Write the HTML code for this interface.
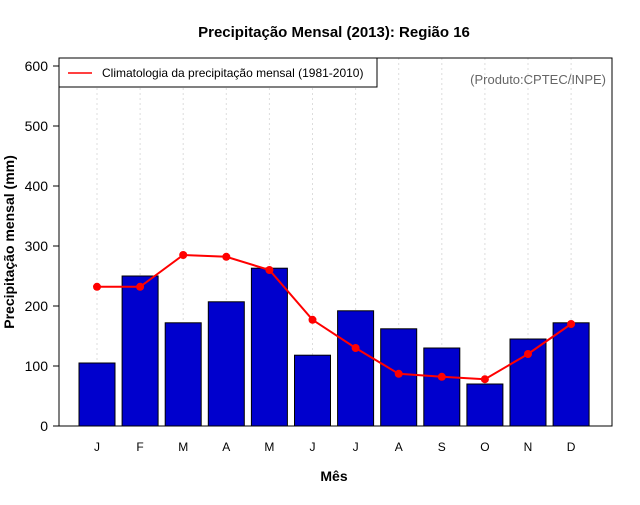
<!DOCTYPE html>
<html><head><meta charset="utf-8"><style>
body{margin:0;background:#fff;font-family:"Liberation Sans",sans-serif}
</style></head><body>
<svg id="c" width="640" height="500" xmlns="http://www.w3.org/2000/svg">
<rect width="640" height="500" fill="#fff"/>
<text x="334" y="37" text-anchor="middle" font-size="15" font-weight="bold">Precipitação Mensal (2013): Região 16</text>
<text x="334" y="481" text-anchor="middle" font-size="14" font-weight="bold">Mês</text>
<text transform="translate(14,242) rotate(-90)" text-anchor="middle" font-size="14" font-weight="bold">Precipitação mensal (mm)</text>
<g id="grid"></g><g id="bars"></g><g id="line"></g><g id="axes"></g>
<rect x="59" y="58" width="553" height="368" fill="none" stroke="#000"/>
<text x="606" y="84" text-anchor="end" font-size="13" fill="#666">(Produto:CPTEC/INPE)</text>
<g>
<rect x="59" y="58" width="318" height="29" fill="#fff" stroke="#000"/>
<line x1="68" y1="73" x2="92" y2="73" stroke="red" stroke-width="1.5"/>
<text x="102" y="77" font-size="12">Climatologia da precipitação mensal (1981-2010)</text>
</g>
</svg>
<script>
const months=["J","F","M","A","M","J","J","A","S","O","N","D"];
const precip2013=[105,250,172,207,263,118,192,162,130,70,145,172];
const climatology=[232,232,285,282,260,177,130,87,82,78,120,170];
const yTicks=[0,100,200,300,400,500,600];
const NS="http://www.w3.org/2000/svg";
const X=i=>97+i*43.1, Y=v=>426-v*0.6;
function mk(p,t,a){const e=document.createElementNS(NS,t);for(const k in a)e.setAttribute(k,a[k]);document.getElementById(p).appendChild(e);return e;}
months.forEach((m,i)=>{
 const g=mk("grid","line",{x1:X(i),x2:X(i),y1:58,y2:426,stroke:"#ddd","stroke-dasharray":"2,3"});
 
 
 const b=mk("bars","rect",{x:X(i)-18,y:Y(precip2013[i]),width:36,height:precip2013[i]*0.6,fill:"#0000cd",stroke:"#000"});
 
 
 const t=mk("axes","text",{x:X(i),y:451,"text-anchor":"middle","font-size":"12"});t.textContent=m;
 
 
});
const pl=mk("line","polyline",{points:climatology.map((v,i)=>X(i)+","+Y(v)).join(" "),fill:"none",stroke:"red","stroke-width":2});


climatology.forEach((v,i)=>{const c=mk("line","circle",{cx:X(i),cy:Y(v),r:4,fill:"red"});
 
 });
yTicks.forEach(v=>{
 mk("axes","line",{x1:53,x2:59,y1:Y(v),y2:Y(v),stroke:"#000"});
 const t=mk("axes","text",{x:48,y:Y(v)+5,"text-anchor":"end","font-size":"14"});t.textContent=v;
 
 
});
</script>
</body></html>
